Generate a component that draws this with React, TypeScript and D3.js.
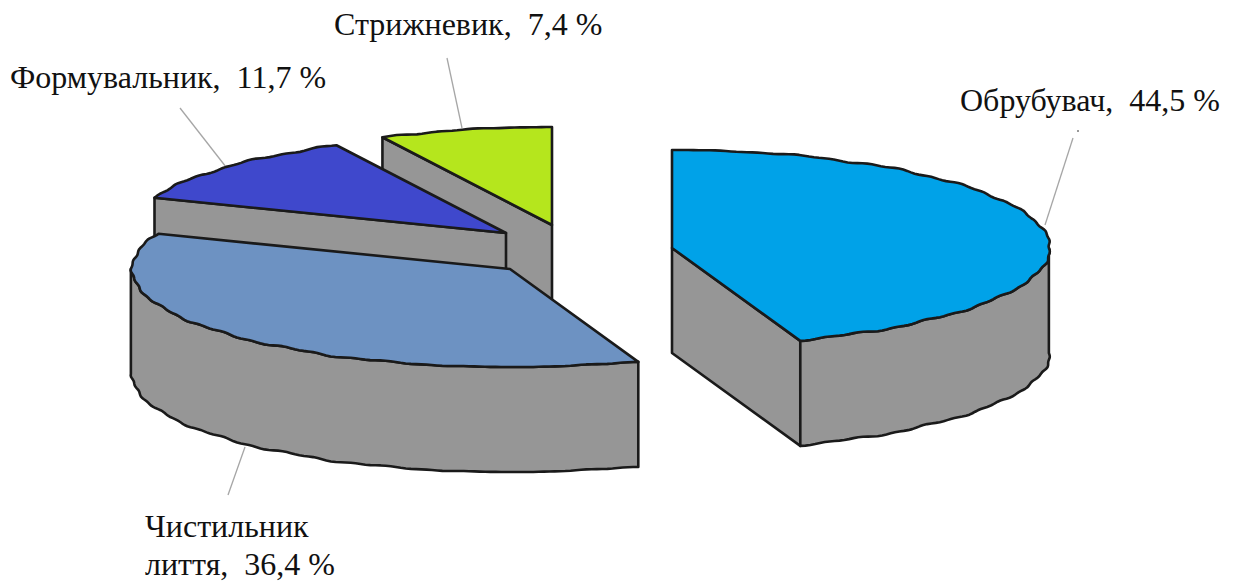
import React from "react";
import * as d3 from "d3";

const categories = ["Обрубувач", "Чистильник лиття", "Формувальник", "Стрижневик"];
const values = [44.5, 36.4, 11.7, 7.4];
const colors = ["#00a2e8", "#6d92c2", "#3f48cc", "#b5e61d"];
const wallColor = "#969696";

const RX = 378, RY = 98, DEPTH = 105;
const apexes: [number, number][] = [[672, 248], [510, 269], [506, 233], [552, 225]];

const pie = d3.pie<number>().sort(null).value((d) => d);
const arcs = pie(values);
const sx = d3.scaleLinear().domain([-1, 1]).range([-RX, RX]);
const sy = d3.scaleLinear().domain([-1, 1]).range([-RY, RY]);
const line = d3.line<[number, number]>();

// the reference's rims are slightly uneven (a scanned drawing), so the outline carries a small fixed ripple,
// fading out toward the flat top of the ellipse
const ripple = (a: number) =>
  (0.8 * Math.sin(a * 23) + 0.6 * Math.sin(a * 59 + 1)) * Math.min(1, Math.abs(Math.sin(a)) * 2);

function rim(a0: number, a1: number, cx: number, cy: number, dy = 0): [number, number][] {
  const n = Math.max(1, Math.ceil((a1 - a0) * 70));
  return d3.range(n + 1).map((i) => {
    const a = a0 + ((a1 - a0) * i) / n;
    const w = ripple(a);
    return [cx + sx(Math.sin(a)) + w * Math.sin(a), cy - sy(Math.cos(a)) - w * Math.cos(a) + dy] as [number, number];
  });
}

const labels = [
  { lines: ["Обрубувач,  44,5 %"], x: 960, y: 111 },
  { lines: ["Чистильник", "лиття,  36,4 %"], x: 145, y: 537 },
  { lines: ["Формувальник,  11,7 %"], x: 10, y: 88 },
  { lines: ["Стрижневик,  7,4 %"], x: 334, y: 35 },
];
const leaders = [
  [[1073, 138], [1045, 225]],
  [[245, 447], [228, 495]],
  [[180, 108], [226, 167]],
  [[447, 58], [462, 128]],
] as [number, number][][];

export default function App() {
  const order = [3, 2, 1, 0];
  return (
    <svg width={1240} height={583} style={{ position: "absolute", left: 0, top: 0, background: "#fff" }}>
      {leaders.map((l, i) => (
        <path key={i} d={line(l)!} stroke="#a6a6a6" strokeWidth={1.3} fill="none" />
      ))}
      <circle cx={1078} cy={131} r={1} fill="#777" />
      {order.map((i) => {
        const a = arcs[i];
        const [cx, cy] = apexes[i];
        const s = rim(a.startAngle, a.startAngle, cx, cy)[0];
        const e = rim(a.endAngle, a.endAngle, cx, cy)[0];
        const face = (p: [number, number]) =>
          line([[cx, cy], p, [p[0], p[1] + DEPTH], [cx, cy + DEPTH]])! + "Z";
        const w0 = Math.max(a.startAngle, Math.PI / 2);
        const w1 = Math.min(a.endAngle, (3 * Math.PI) / 2);
        const wall =
          w1 > w0
            ? line([...rim(w0, w1, cx, cy), ...rim(w0, w1, cx, cy, DEPTH).reverse()])! + "Z"
            : null;
        const style = { stroke: "#1a1a1a", strokeWidth: 2.6, strokeLinejoin: "round" as const };
        return (
          <g key={categories[i]}>
            {Math.sin(a.startAngle) < -1e-6 && <path d={face(s)} fill={wallColor} {...style} />}
            {Math.sin(a.endAngle) > 1e-6 && <path d={face(e)} fill={wallColor} {...style} />}
            {wall && <path d={wall} fill={wallColor} {...style} />}
            <path
              d={line([[cx, cy], ...rim(a.startAngle, a.endAngle, cx, cy)])! + "Z"}
              fill={colors[i]}
              {...style}
            />
          </g>
        );
      })}
      {labels.map((l, i) => (
        <text key={i} fontFamily="'Liberation Serif', serif" fontSize={32} fill="#111">
          {l.lines.map((t, j) => (
            <tspan key={j} x={l.x} y={l.y + j * 38} style={{ whiteSpace: "pre" }}>
              {t}
            </tspan>
          ))}
        </text>
      ))}
    </svg>
  );
}
